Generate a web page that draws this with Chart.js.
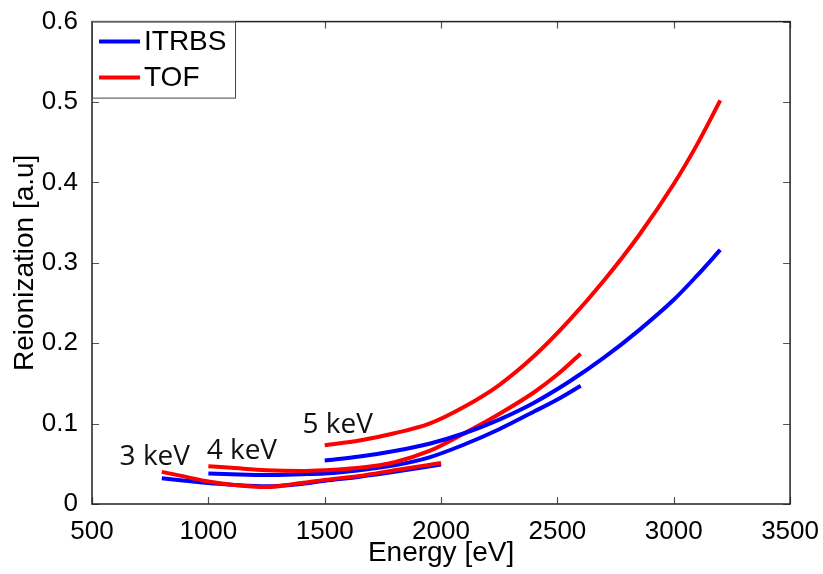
<!DOCTYPE html>
<html>
<head>
<meta charset="utf-8">
<script src="https://cdn.jsdelivr.net/npm/chart.js@4/dist/chart.umd.min.js"></script>
<style>
    html, body { margin: 0; padding: 0; background: #fff; }
    #wrap { width: 823px; height: 574px; }
</style>
</head>
<body>
<div id="wrap"><canvas id="line-graph" width="823" height="574"></canvas></div>
<script>
// energies [eV] for each beam energy run
const energy3 = [800, 900, 1000, 1100, 1250, 1400, 1500, 1650, 1800, 2000]
const energy4 = [1000, 1100, 1250, 1400, 1500, 1650, 1800, 1950, 2100, 2250, 2400, 2500, 2600]
const energy5 = [1500, 1650, 1800, 1950, 2100, 2250, 2400, 2550, 2700, 2850, 3000, 3100, 3200]

// reionization [a.u]
const itrbs3 = [0.032, 0.029, 0.026, 0.024, 0.022, 0.025, 0.029, 0.034, 0.040, 0.049]
const tof3 = [0.040, 0.034, 0.028, 0.024, 0.021, 0.026, 0.030, 0.035, 0.042, 0.051]
const itrbs4 = [0.038, 0.037, 0.036, 0.037, 0.038, 0.042, 0.048, 0.058, 0.074, 0.093, 0.115, 0.130, 0.147]
const tof4 = [0.047, 0.045, 0.042, 0.041, 0.042, 0.045, 0.052, 0.066, 0.088, 0.112, 0.139, 0.161, 0.187]
const itrbs5 = [0.054, 0.059, 0.066, 0.075, 0.088, 0.105, 0.126, 0.152, 0.182, 0.216, 0.254, 0.284, 0.316]
const tof5 = [0.073, 0.079, 0.088, 0.100, 0.121, 0.148, 0.184, 0.228, 0.278, 0.334, 0.398, 0.447, 0.502]

const runLabels = ['3 keV', '4 keV', '5 keV']
const runLabelPos = [[770, 0.058], [1144, 0.066], [1556, 0.098]]
const legendNames = ['ITRBS', 'TOF']

const xTicks = [500, 1000, 1500, 2000, 2500, 3000, 3500]

const BLUE = '#0000ff'
const RED = '#ff0000'

function toPoints(xs, ys) {
    return xs.map((x, i) => {
        return { x: x, y: ys[i] }
    })
}

function makeSet(label, xs, ys, color, order) {
    return {
        label: label,
        data: toPoints(xs, ys),
        borderColor: color,
        backgroundColor: color,
        borderWidth: 4,
        pointRadius: 0,
        showLine: true,
        fill: false,
        cubicInterpolationMode: 'monotone',
        order: order
    }
}

// lower order is drawn on top
let datasets = [
    makeSet('ITRBS 3 keV', energy3, itrbs3, BLUE, 6),
    makeSet('TOF 3 keV', energy3, tof3, RED, 5),
    makeSet('ITRBS 4 keV', energy4, itrbs4, BLUE, 4),
    makeSet('TOF 4 keV', energy4, tof4, RED, 3),
    makeSet('ITRBS 5 keV', energy5, itrbs5, BLUE, 2),
    makeSet('TOF 5 keV', energy5, tof5, RED, 1)
]

// frame, inward ticks, run labels and legend box (matlab style)
const matlabLook = {
    id: 'matlabLook',
    afterDatasetsDraw(chart) {
        let ctx = chart.ctx
        let a = chart.chartArea
        let xs = chart.scales.x
        let ys = chart.scales.y
        ctx.save()

        // tick marks pointing inward, on all four sides
        ctx.strokeStyle = '#555'
        ctx.lineWidth = 1.2
        let len = 7
        xs.ticks.forEach((t) => {
            let px = Math.round(xs.getPixelForValue(t.value)) + 0.5
            ctx.beginPath()
            ctx.moveTo(px, a.bottom); ctx.lineTo(px, a.bottom - len)
            ctx.moveTo(px, a.top); ctx.lineTo(px, a.top + len)
            ctx.stroke()
        })
        ys.ticks.forEach((t) => {
            let py = Math.round(ys.getPixelForValue(t.value)) + 0.5
            ctx.beginPath()
            ctx.moveTo(a.left, py); ctx.lineTo(a.left + len, py)
            ctx.moveTo(a.right, py); ctx.lineTo(a.right - len, py)
            ctx.stroke()
        })

        // box
        ctx.strokeStyle = '#222'
        ctx.lineWidth = 1.5
        ctx.strokeRect(a.left, a.top, a.right - a.left, a.bottom - a.top)

        // run labels
        ctx.fillStyle = '#111'
        ctx.font = '28px "Open Sans", "Noto Sans", sans-serif'
        ctx.textAlign = 'center'
        ctx.textBaseline = 'middle'
        runLabels.map((txt, i) => {
            let p = runLabelPos[i]
            ctx.fillText(txt, xs.getPixelForValue(p[0]), ys.getPixelForValue(p[1]))
        })

        // legend box in the top left corner
        let lx = a.left, ly = a.top, lw = 143, lh = 76
        ctx.fillStyle = '#fff'
        ctx.fillRect(lx, ly, lw, lh)
        ctx.strokeStyle = '#444'
        ctx.lineWidth = 1
        ctx.strokeRect(lx + 0.5, ly + 0.5, lw, lh)
        let colors = [BLUE, RED]
        ctx.font = '28px "Liberation Sans", Arial, sans-serif'
        ctx.textAlign = 'left'
        legendNames.map((name, i) => {
            let yy = ly + 20 + i * 36
            ctx.strokeStyle = colors[i]
            ctx.lineWidth = 4
            ctx.beginPath()
            ctx.moveTo(lx + 7, yy); ctx.lineTo(lx + 48, yy)
            ctx.stroke()
            ctx.fillStyle = '#000'
            ctx.fillText(name, lx + 52, yy + 1)
        })
        ctx.restore()
    }
}

let tickFont = { family: '"Liberation Sans", Arial, sans-serif', size: 26 }
let titleFont = { family: '"Liberation Sans", Arial, sans-serif', size: 28 }

let options = {
    responsive: false,
    animation: false,
    layout: { padding: { top: 20, right: 32, left: 0, bottom: 0 } },
    plugins: {
        legend: { display: false },
        tooltip: { enabled: false }
    },
    scales: {
        x: {
            type: 'linear',
            min: 500,
            max: 3500,
            afterBuildTicks: (scale) => {
                scale.ticks = xTicks.map((v) => { return { value: v } })
            },
            afterFit: (scale) => { scale.height = 70 },
            grid: { display: false },
            border: { display: false },
            ticks: {
                color: '#000',
                font: tickFont,
                padding: 4,
                maxRotation: 0,
                callback: (v) => String(v)
            },
            title: {
                display: true,
                text: 'Energy [eV]',
                color: '#000',
                font: titleFont,
                padding: { top: 0, bottom: 4 }
            }
        },
        y: {
            min: 0,
            max: 0.6,
            afterFit: (scale) => { scale.width = 92 },
            grid: { display: false },
            border: { display: false },
            ticks: {
                stepSize: 0.1,
                color: '#000',
                font: tickFont,
                padding: 6,
                callback: (v) => String(Math.round(v * 10) / 10)
            },
            title: {
                display: true,
                text: 'Reionization [a.u]',
                color: '#000',
                font: titleFont,
                padding: { top: 8, bottom: 0 }
            }
        }
    }
}

let oGraph = document.getElementById('line-graph').getContext('2d')
let myLineChart = new Chart(oGraph, {
    type: 'scatter',
    data: { datasets: datasets },
    options: options,
    plugins: [matlabLook]
})
</script>
</body>
</html>
